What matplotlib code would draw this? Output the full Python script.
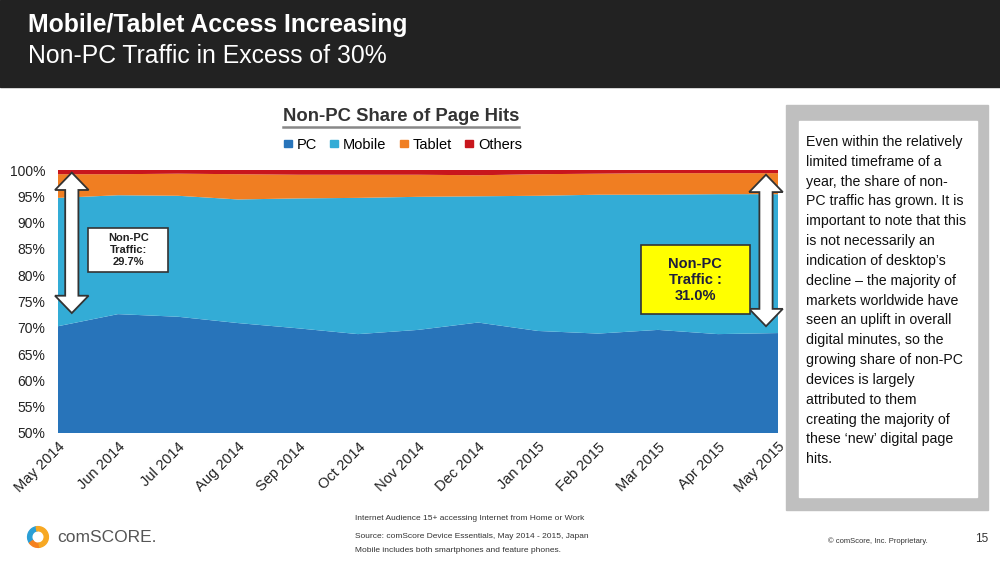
import numpy as np
import matplotlib.pyplot as plt
from matplotlib.patches import Rectangle, Polygon, Wedge
from matplotlib.lines import Line2D

plt.rcParams['font.family'] = ['Liberation Sans', 'DejaVu Sans']

# data (share of page hits, %)
months = ["May 2014", "Jun 2014", "Jul 2014", "Aug 2014", "Sep 2014", "Oct 2014",
          "Nov 2014", "Dec 2014", "Jan 2015", "Feb 2015", "Mar 2015", "Apr 2015", "May 2015"]
pc = [70.3, 72.6, 72.1, 70.9, 69.9, 68.8, 69.6, 71.0, 69.4, 68.9, 69.6, 68.8, 69.0]
mobile = [24.4, 22.6, 23.0, 23.5, 24.7, 25.9, 25.3, 24.0, 25.7, 26.4, 25.7, 26.6, 26.4]
others = [0.8, 0.8, 0.7, 0.8, 0.9, 0.9, 0.9, 1.0, 0.8, 0.7, 0.6, 0.6, 0.6]
tablet = [100 - p - m - o for p, m, o in zip(pc, mobile, others)]

series = ["PC", "Mobile", "Tablet", "Others"]
colors = ["#2874BA", "#33ACD6", "#F07E22", "#C8161D"]

fig = plt.figure(figsize=(10, 5.61), dpi=100)
W, H = 1000, 561

def fx(px):
    return px / W

def fy(py):
    return 1 - py / H

# header band
fig.patches.append(Rectangle((0, fy(87)), 1, 87 / H, transform=fig.transFigure,
                             color="#222222", zorder=0))
fig.text(fx(28), fy(25), "Mobile/Tablet Access Increasing", color="white",
         fontsize=17.8, fontweight="bold", va="center")
fig.text(fx(28), fy(56), "Non-PC Traffic in Excess of 30%", color="white",
         fontsize=17.8, va="center")

# main chart
ax = fig.add_axes([fx(58), fy(433), fx(778) - fx(58), (433 - 170) / H])
x = np.arange(len(months))
ax.stackplot(x, pc, mobile, tablet, others, colors=colors, labels=series)
ax.set_xlim(0, len(months) - 1)
ax.set_ylim(50, 100)
ax.set_yticks(np.arange(50, 101, 5))
ax.set_yticklabels([f"{v}%" for v in range(50, 101, 5)], fontsize=10, color="#222222")
ax.set_xticks(x)
ax.set_xticklabels(months, rotation=45, ha="right", rotation_mode="anchor",
                   fontsize=10.5, color="#222222")
ax.tick_params(axis="x", length=0, pad=5)
ax.tick_params(axis="y", length=0, pad=9)
for s in ax.spines.values():
    s.set_visible(False)

# chart title + legend
ttl = fig.text(fx(401), fy(117), "Non-PC Share of Page Hits", fontsize=13.3,
               fontweight="bold", color="#333333", ha="center", va="center")
handles = [Rectangle((0, 0), 1, 1, color=c) for c in colors]
fig.legend(handles, series, loc="center", bbox_to_anchor=(fx(403), fy(145)), ncol=4,
           frameon=False, fontsize=10.5, handlelength=0.55, handleheight=0.4,
           handletextpad=0.35, columnspacing=0.9)


def double_arrow(ax, xc, y0, y1, shaft, head, hlen):
    pts = [(xc, y1), (xc + head, y1 - hlen), (xc + shaft, y1 - hlen),
           (xc + shaft, y0 + hlen), (xc + head, y0 + hlen), (xc, y0),
           (xc - head, y0 + hlen), (xc - shaft, y0 + hlen), (xc - shaft, y1 - hlen),
           (xc - head, y1 - hlen)]
    ax.add_patch(Polygon(pts, closed=True, fc="white", ec="#333333", lw=1.3,
                         zorder=5, clip_on=False))


double_arrow(ax, 0.23, pc[0] + 2.5, 99.5, 0.11, 0.28, 3.3)
double_arrow(ax, 11.8, pc[-1] + 1.3, 99.1, 0.11, 0.28, 3.3)

non_pc_first = 100 - pc[0]
non_pc_last = 100 - pc[-1]
ax.add_patch(Rectangle((0.5, 80.6), 1.33, 8.4, fc="white", ec="#333333", lw=1.2, zorder=6))
ax.text(1.17, 84.7, f"Non-PC\nTraffic:\n{non_pc_first:.1f}%", ha="center", va="center",
        fontsize=8, fontweight="bold", color="#222222", zorder=7, linespacing=1.25)
ax.add_patch(Rectangle((9.72, 72.6), 1.81, 13.1, fc="#FFFF00", ec="#333333", lw=1.2, zorder=6))
ax.text(10.62, 79.1, f"Non-PC\nTraffic :\n{non_pc_last:.1f}%", ha="center", va="center",
        fontsize=10.5, fontweight="bold", color="#1e1e3c", zorder=7, linespacing=1.2)

# side note box
fig.patches.append(Rectangle((fx(786), fy(510)), (988 - 786) / W, (510 - 105) / H,
                             transform=fig.transFigure, color="#BFBFBF", zorder=0))
fig.patches.append(Rectangle((fx(799), fy(497)), (977 - 799) / W, (497 - 121) / H,
                             transform=fig.transFigure, color="white", zorder=0))
note = ("Even within the relatively\nlimited timeframe of a\nyear, the share of non-\n"
        "PC traffic has grown. It is\nimportant to note that this\nis not necessarily an\n"
        "indication of desktop\u2019s\ndecline \u2013 the majority of\nmarkets worldwide have\n"
        "seen an uplift in overall\ndigital minutes, so the\ngrowing share of non-PC\n"
        "devices is largely\nattributed to them\ncreating the majority of\n"
        "these \u2018new\u2019 digital page\nhits.")
fig.text(fx(806), fy(135), note, fontsize=10.2, color="#111111", va="top", ha="left",
         linespacing=1.53)

# footer
fig.text(fx(355), fy(519), "Internet Audience 15+ accessing Internet from Home or Work",
         fontsize=6, color="#333333", va="center")
fig.text(fx(355), fy(537), "Source: comScore Device Essentials, May 2014 - 2015, Japan",
         fontsize=6, color="#333333", va="center")
fig.text(fx(355), fy(551), "Mobile includes both smartphones and feature phones.",
         fontsize=6, color="#333333", va="center")
fig.text(fx(828), fy(541), "\u00a9 comScore, Inc. Proprietary.", fontsize=5.5,
         color="#333333", va="center")
fig.text(fx(975), fy(539), "15", fontsize=8.5, color="#333333", va="center")

# logo
lax = fig.add_axes([fx(25), fy(550), 26 / W, 26 / H])
lax.set_xlim(-1, 1)
lax.set_ylim(-1, 1)
lax.set_aspect("equal")
lax.axis("off")
lax.add_patch(Wedge((0, 0), 0.8, 100, 215, width=0.32, color="#2A9FD6"))
lax.add_patch(Wedge((0, 0), 0.8, 215, 280, width=0.32, color="#F58220"))
lax.add_patch(Wedge((0, 0), 0.8, -80, 100, width=0.32, color="#F7A823"))
fig.text(fx(57), fy(538), "comSCORE.", fontsize=12.5, color="#555555", va="center")

# underline for chart title
fig.canvas.draw()
bb = ttl.get_window_extent().transformed(fig.transFigure.inverted())
fig.add_artist(Line2D([bb.x0, bb.x1], [bb.y0 - 0.002, bb.y0 - 0.002],
                      transform=fig.transFigure, color="#888888", lw=1.8))

fig.savefig("out.png", dpi=100)
